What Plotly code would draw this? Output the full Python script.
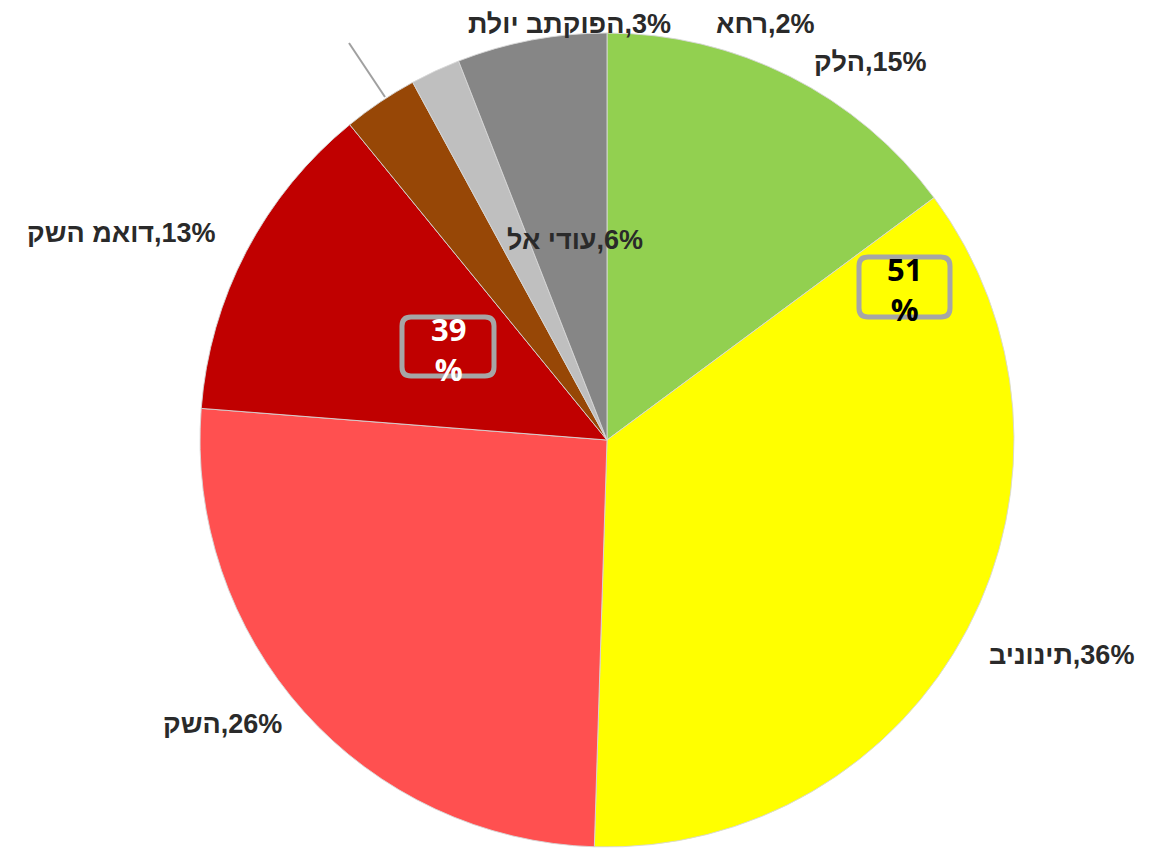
import plotly.graph_objects as go

W, H = 1153, 851
OFF = 8  # page body margin in the browser
FW, FH = W - OFF, H - OFF

categories = ["קלה", "בינונית", "קשה", "קשה מאוד", "תלוי בתקופה", "אחר", "לא ידוע"]
values = [15, 36, 26, 13, 3, 2, 6]
colors = ["#92d050", "#ffff00", "#ff5050", "#c00000", "#974706", "#bfbfbf", "#868686"]

# label centre positions in screen pixels (layout only)
label_pos = [(870, 62), (1061, 655), (222, 724), (121, 233), (569, 24), (765, 24), (575, 240)]

summary_texts = ["39<br>%", "51<br>%"]
summary_colors = ["#ffffff", "#000000"]
summary_boxes = [(402, 317, 494, 376), (859, 257, 950, 317)]


def px(x):
    return (x - OFF) / FW


def py(y):
    return 1 - (y - OFF) / FH


cx, cy, r = 607, 440, 407

fig = go.Figure(go.Pie(
    labels=categories,
    values=values,
    sort=False,
    direction="clockwise",
    rotation=0,
    marker=dict(colors=colors, line=dict(color="rgba(215,215,215,0.9)", width=1)),
    textinfo="none",
    hoverinfo="label+percent",
    showlegend=False,
    domain=dict(x=[px(cx - r), px(cx + r)], y=[py(cy + r), py(cy - r)]),
))

LRO, PDF = "\u202d", "\u202c"
annotations = []
for cat, v, (x, y) in zip(categories, values, label_pos):
    annotations.append(dict(
        x=px(x), y=py(y), xref="paper", yref="paper",
        text=LRO + f"{cat},{v}%" + PDF, showarrow=False,
        xanchor="center", yanchor="middle",
        font=dict(family="Liberation Sans, Arial, sans-serif", size=27,
                  color="#2a2a2a", weight="bold"),
    ))

shapes = []
for txt, col, (x0, y0, x1, y1) in zip(summary_texts, summary_colors, summary_boxes):
    rr = 9
    pts = [
        f"M{px(x0 + rr)},{py(y0)}",
        f"L{px(x1 - rr)},{py(y0)}",
        f"Q{px(x1)},{py(y0)} {px(x1)},{py(y0 + rr)}",
        f"L{px(x1)},{py(y1 - rr)}",
        f"Q{px(x1)},{py(y1)} {px(x1 - rr)},{py(y1)}",
        f"L{px(x0 + rr)},{py(y1)}",
        f"Q{px(x0)},{py(y1)} {px(x0)},{py(y1 - rr)}",
        f"L{px(x0)},{py(y0 + rr)}",
        f"Q{px(x0)},{py(y0)} {px(x0 + rr)},{py(y0)}",
        "Z",
    ]
    shapes.append(dict(type="path", xref="paper", yref="paper", path=" ".join(pts),
                       line=dict(color="#a6a6a6", width=5)))
    annotations.append(dict(
        x=px((x0 + x1) / 2), y=py((y0 + y1) / 2 + 2), xref="paper", yref="paper",
        text=txt, showarrow=False, xanchor="center", yanchor="middle",
        font=dict(family="Open Sans, Liberation Sans, sans-serif", size=31,
                  color=col, weight="bold"),
    ))

# leader line for the small slice label
shapes.append(dict(type="line", xref="paper", yref="paper",
                   x0=px(349), y0=py(43), x1=px(385), y1=py(97),
                   line=dict(color="#a0a0a0", width=2)))

fig.update_layout(
    width=FW, height=FH,
    margin=dict(l=0, r=0, t=0, b=0),
    paper_bgcolor="white", plot_bgcolor="white",
    annotations=annotations, shapes=shapes,
)

fig.write_html("out.html")
